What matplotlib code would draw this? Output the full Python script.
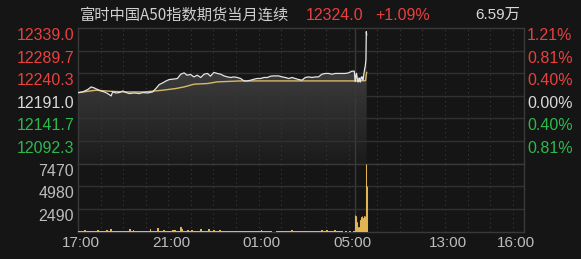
import numpy as np
import matplotlib
matplotlib.use('Agg')
import matplotlib.pyplot as plt
import matplotlib.transforms as mtransforms
from matplotlib.colors import LinearSegmentedColormap

# ---------------- data ----------------
TITLE = "富时中国A50指数期货当月连续"
LAST_PRICE = "12324.0"
CHANGE = "+1.09%"
VOLUME_TOTAL = "6.59万"

PREV_CLOSE = 12191.0
PRICE_LABELS = [12339.0, 12289.7, 12240.3, 12191.0, 12141.7, 12092.3]
PCT_LABELS = ["1.21%", "0.81%", "0.40%", "0.00%", "0.40%", "0.81%"]
VOL_LABELS = [7470, 4980, 2490]

NIGHT_LEN = 735     # 17:00 -> 05:15
DAY_LEN = 450       # 09:00 -> 16:30

TIME_LABELS = ["17:00", "21:00", "01:00", "05:00", "13:00", "16:00"]
TIME_POS = [0, 240, 480, 720, 975, 1155]

# night session price (minute from 17:00, price)
night_minutes = [2, 12, 26, 35, 43, 52, 61, 70, 79, 88, 92, 101, 110, 119, 128, 136,
                 150, 163, 172, 185, 198, 207, 216, 225, 234, 243, 252,
                 264, 273, 282, 290, 299, 308, 317, 326, 335, 344, 352, 361, 370,
                 379, 388, 397, 406, 414, 423, 432, 441, 450, 459, 468, 476, 485,
                 494, 503, 512, 521, 533, 542, 551, 560, 569, 577, 586, 595, 604,
                 613, 622, 630, 639, 648, 657, 666, 675, 684, 693, 701, 710, 719,
                 728, 734]
night_price = [12198.0, 12199.3, 12204.6, 12210.3, 12208.1, 12204.6, 12201.5, 12199.3,
               12195.8, 12190.6, 12199.3, 12197.1, 12198.0, 12201.5, 12198.0, 12195.8,
               12197.1, 12195.8, 12198.0, 12197.1, 12199.3, 12206.8, 12215.6, 12219.1,
               12223.4, 12226.5, 12227.2,
               12228.7, 12238.1, 12241.0, 12235.9, 12237.5, 12232.2, 12235.9, 12230.9,
               12238.1, 12239.7, 12233.8, 12241.9, 12239.7, 12238.1, 12234.4, 12232.2,
               12230.9, 12232.2, 12230.9, 12228.7, 12223.4, 12223.4, 12225.0, 12227.2,
               12228.7, 12228.7, 12230.9, 12230.9, 12233.8, 12234.4, 12234.4, 12232.2,
               12230.9, 12228.7, 12230.9, 12228.7, 12226.5, 12225.0, 12230.9, 12232.2,
               12230.9, 12232.2, 12232.2, 12238.1, 12239.7, 12239.7, 12238.1, 12239.7,
               12239.7, 12239.7, 12239.7, 12241.0, 12244.7, 12244.7]

# day session price, one per minute from 09:00
day_price = [12236, 12226, 12222, 12230, 12238, 12240, 12235, 12229, 12223, 12221,
             12222, 12226, 12230, 12228, 12223, 12221, 12224, 12230, 12232, 12229,
             12232, 12228, 12226, 12230, 12236, 12241, 12246, 12252, 12254, 12262,
             12270, 12331, 12324]

# average price line
avg_night_minutes = [2, 21, 48, 83, 128, 172, 198, 225, 260, 282, 308, 344, 370, 432, 521, 734]
avg_night = [12198.0, 12200.2, 12203.1, 12200.9, 12199.3, 12199.3, 12200.9, 12203.1,
             12206.8, 12210.3, 12216.2, 12217.7, 12221.3, 12223.4, 12223.4, 12223.4]
avg_day_minutes = [0, 29, 30, 31, 32]
avg_day = [12223.4, 12224.0, 12230.0, 12237.0, 12242.0]

# night volume, per 5-minute block
night_vol5 = [100, 100, 100, 250, 100, 100, 100, 100, 100, 100,
              250, 100, 100, 100, 100, 250, 100, 350, 100, 100,
              100, 100, 100, 100, 100, 100, 100, 330, 100, 250,
              100, 100, 100, 100, 100, 100, 100, 100, 350, 120,
              120, 120, 450, 120, 120, 250, 120, 120, 120, 120,
              250, 250, 150, 150, 550, 350, 150, 150, 250, 150,
              250, 150, 150, 150, 150, 330, 150, 150, 150, 330,
              150, 150, 250, 120, 120, 250, 100, 100, 100, 100,
              100, 100, 100, 100, 100, 100, 100, 100, 100, 100,
              100, 100, 100, 100, 100, 100, 100, 250, 100, 100,
              100, 100, 100, 0, 0, 100, 100, 100, 100, 100,
              100, 100, 100, 200, 100, 100, 100, 100, 100, 100,
              100, 100, 100, 100, 100, 100, 100, 100, 100, 200,
              100, 100, 200, 100, 100, 100, 200, 100, 100, 100,
              100, 0, 80, 0, 80, 0, 80]
# day volume, per minute from 09:00
day_vol = [1750, 1800, 1750, 1700, 1150, 1100, 1130, 520, 500, 540, 510, 530, 520,
           1300, 1350, 1320, 1680, 1650, 1700, 770, 760, 1500, 1480, 1520,
           1760, 1740, 1760, 660, 650, 1200, 7470, 5300, 5000]

# ---------------- style ----------------
BG = '#151515'
GRID = '#313131'
BORDER = '#393939'
DOT = '#3a3a3a'
RED = '#e8413f'
GREEN = '#2db84d'
WHITE = '#d9d9d9'
GRAY = '#bdbdbd'
GOLD = '#e2b552'
AVG = '#d9b866'
NUM_FONT = ['Liberation Sans', 'Noto Sans CJK SC', 'DejaVu Sans']
CJK_FONT = ['Noto Sans CJK SC', 'DejaVu Sans']

W, H = 581, 259
fig = plt.figure(figsize=(W / 100, H / 100), dpi=100, facecolor=BG)


def rect(x0, y0, x1, y1):
    return [x0 / W, 1 - y1 / H, (x1 - x0) / W, (y1 - y0) / H]


axp = fig.add_axes(rect(78, 28, 524, 163.5))
axv = fig.add_axes(rect(78, 163.5, 524, 232))

TOTAL = NIGHT_LEN + DAY_LEN
p_top = PRICE_LABELS[0]
p_bot = 2 * PREV_CLOSE - p_top

for ax in (axp, axv):
    ax.set_facecolor(BG)
    ax.set_xticks([])
    ax.set_yticks([])
    for s in ax.spines.values():
        s.set_color(BORDER)
        s.set_linewidth(1.0)
    # hourly dotted lines
    for m in range(60, NIGHT_LEN, 60):
        ax.axvline(m, color=DOT, lw=0.8, ls=(0, (1, 3)), zorder=2)
    for m in range(NIGHT_LEN + 60, TOTAL, 60):
        ax.axvline(m, color=DOT, lw=0.8, ls=(0, (1, 3)), zorder=2)
    ax.axvline(NIGHT_LEN, color=BORDER, lw=1.0, zorder=2)

# price panel
xs = np.concatenate([np.array(night_minutes), NIGHT_LEN + np.arange(len(day_price))])
ps = np.concatenate([np.array(night_price, float), np.array(day_price, float)])
poly = axp.fill_between(xs, ps, p_bot, color='none', lw=0)
cmap = LinearSegmentedColormap.from_list('g', ['#1b1b1b', '#4c4c4c'])
grad = np.linspace(1, 0, 256).reshape(-1, 1)
im = axp.imshow(grad, aspect='auto', cmap=cmap, extent=[0, TOTAL, p_bot, p_top],
                origin='upper', zorder=1, interpolation='bilinear')
im.set_clip_path(poly.get_paths()[0], transform=axp.transData)

for lv in PRICE_LABELS[1:]:
    axp.axhline(lv, color=GRID, lw=1.0, zorder=2)

ax_avg_x = np.concatenate([np.array(avg_night_minutes), NIGHT_LEN + np.array(avg_day_minutes)])
ax_avg_y = np.concatenate([avg_night, avg_day])
axp.plot(ax_avg_x, ax_avg_y, color=AVG, lw=1.0, zorder=3)
axp.plot(xs, ps, color='#e4e4e4', lw=0.9, zorder=4)
axp.set_xlim(0, TOTAL)
axp.set_ylim(p_bot, p_top)

# volume panel
nv_x = np.arange(len(night_vol5)) * 5 + 2.5
axv.bar(nv_x, night_vol5, width=5, color=GOLD, lw=0, zorder=3)
dv_x = NIGHT_LEN + np.arange(len(day_vol)) + 0.5
axv.vlines(dv_x, 0, day_vol, color=GOLD, lw=0.75, zorder=3)
for lv in VOL_LABELS[1:]:
    axv.axhline(lv, color=GRID, lw=1.0, zorder=2)
axv.set_xlim(0, TOTAL)
axv.set_ylim(0, VOL_LABELS[0])

# labels
pcolors = [RED, RED, RED, WHITE, GREEN, GREEN]
ty = axp.get_yaxis_transform()
for lv, pc, col in zip(PRICE_LABELS, PCT_LABELS, pcolors):
    axp.text(-4 / 446, lv, f"{lv:.1f}", transform=ty, ha='right', va='top',
             color=col, fontsize=11.5, family=NUM_FONT)
    axp.text(1 + 3 / 446, lv, pc, transform=ty, ha='left', va='top',
             color=col, fontsize=11.5, family=NUM_FONT)
tv = axv.get_yaxis_transform()
for lv in VOL_LABELS:
    axv.text(-4 / 446, lv, f"{lv}", transform=tv, ha='right', va='top',
             color=GRAY, fontsize=11.5, family=NUM_FONT)

tt = mtransforms.blended_transform_factory(axv.transData, fig.transFigure)
tt = tt + mtransforms.ScaledTranslation(3 / 100, 0, fig.dpi_scale_trans)
for lab, pos in zip(TIME_LABELS, TIME_POS):
    fig.text(pos, 1 - 243 / H, lab, transform=tt, ha='center', va='center',
             color=GRAY, fontsize=11, family=NUM_FONT)

# header
fig.text(80 / W, 1 - 15 / H, TITLE, ha='left', va='center', color='#cfcfcf',
         fontsize=11, family=CJK_FONT)
fig.text(306 / W, 1 - 15 / H, LAST_PRICE, ha='left', va='center', color=RED,
         fontsize=11.5, family=NUM_FONT)
fig.text(375 / W, 1 - 15 / H, CHANGE, ha='left', va='center', color=RED,
         fontsize=11.5, family=NUM_FONT)
fig.text(475 / W, 1 - 15 / H, VOLUME_TOTAL, ha='left', va='center', color=WHITE,
         fontsize=11, family=NUM_FONT)

fig.savefig('out.png', dpi=100, facecolor=BG)
